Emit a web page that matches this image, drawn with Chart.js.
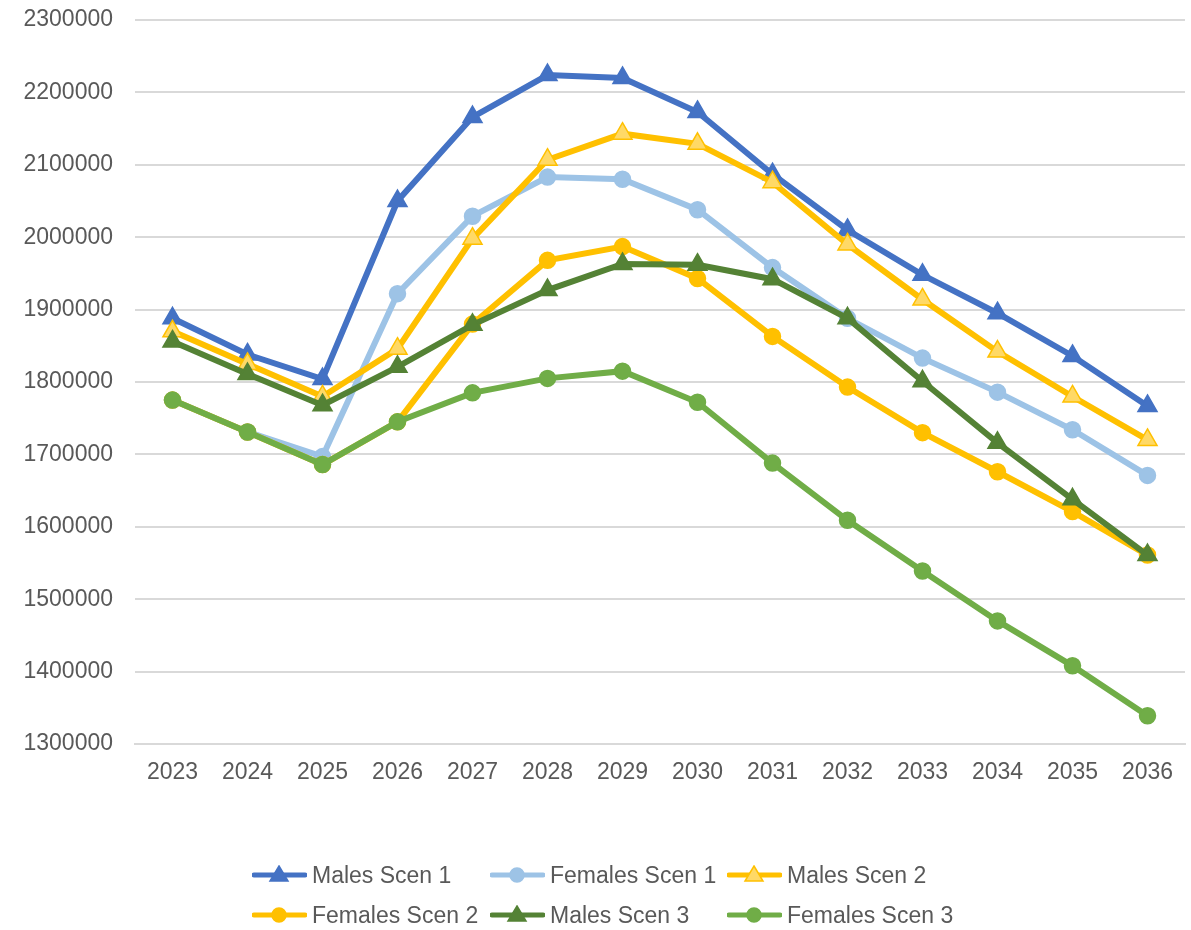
<!DOCTYPE html>
<html>
<head>
<meta charset="utf-8">
<script src="https://cdn.jsdelivr.net/npm/chart.js@4/dist/chart.umd.min.js"></script>
<style>
    body { margin: 0; background: #fff; font-family: "Liberation Sans", Arial, sans-serif; }
    #wrap { position: relative; width: 1191px; height: 930px; }
    #legend { position: absolute; left: 0; top: 0; width: 1191px; height: 930px; pointer-events: none; }
    .item { position: absolute; display: flex; align-items: center; height: 30px; color: #595959; font-size: 23px; white-space: nowrap; }
    .item svg { margin-right: 5px; }
</style>
</head>
<body>
<div id="wrap">
    <canvas id="popChart" width="1191" height="930"></canvas>
    <div id="legend"></div>
</div>
<script>
const years = ["2023", "2024", "2025", "2026", "2027", "2028", "2029", "2030", "2031", "2032", "2033", "2034", "2035", "2036"];

const malesScen1 = [1888000, 1838000, 1804000, 2050000, 2166000, 2224000, 2220000, 2173000, 2087000, 2010000, 1948000, 1895000, 1836000, 1767000];
const femalesScen1 = [1775000, 1731000, 1697000, 1922000, 2029000, 2083000, 2080000, 2038000, 1958000, 1888000, 1833000, 1786000, 1734000, 1671000];
const malesScen2 = [1870000, 1825000, 1780000, 1846000, 1998000, 2107000, 2143000, 2129000, 2076000, 1990000, 1914000, 1842000, 1780000, 1720000];
const femalesScen2 = [1775000, 1731000, 1686000, 1745000, 1880000, 1968000, 1987000, 1943000, 1863000, 1793000, 1730000, 1676000, 1621000, 1561000];
const malesScen3 = [1856000, 1811000, 1768000, 1821000, 1879000, 1927000, 1963000, 1962000, 1942000, 1888000, 1801000, 1716000, 1638000, 1561000];
const femalesScen3 = [1775000, 1731000, 1686000, 1745000, 1785000, 1805000, 1815000, 1772000, 1688000, 1609000, 1539000, 1470000, 1408000, 1339000];

const seriesNames = ["Males Scen 1", "Females Scen 1", "Males Scen 2", "Females Scen 2", "Males Scen 3", "Females Scen 3"];
const yTicks = [1300000, 1400000, 1500000, 1600000, 1700000, 1800000, 1900000, 2000000, 2100000, 2200000, 2300000];

// look of each series (line colour, marker, marker fill)
const looks = [
    { color: "#4472c4", marker: "triangle", fill: "#4472c4", r: 11 },
    { color: "#9dc3e6", marker: "circle", fill: "#9dc3e6", r: 8 },
    { color: "#ffc000", marker: "triangle", fill: "#ffd966", r: 11 },
    { color: "#ffc000", marker: "circle", fill: "#ffc000", r: 8 },
    { color: "#548235", marker: "triangle", fill: "#548235", r: 11 },
    { color: "#70ad47", marker: "circle", fill: "#70ad47", r: 8 }
];
const allData = [malesScen1, femalesScen1, malesScen2, femalesScen2, malesScen3, femalesScen3];

const datasets = allData.map((vals, i) => ({
    label: seriesNames[i],
    data: vals,
    borderColor: looks[i].color,
    backgroundColor: looks[i].fill,
    pointBackgroundColor: looks[i].fill,
    pointBorderColor: looks[i].color,
    pointBorderWidth: 1.5,
    pointStyle: looks[i].marker,
    pointRadius: looks[i].r,
    pointHoverRadius: looks[i].r,
    borderWidth: 6,
    fill: false,
    tension: 0,
    clip: false,
    order: 5 - i // later series on top, like Excel
}));

const ctx = document.getElementById("popChart").getContext("2d");
new Chart(ctx, {
    type: "line",
    data: { labels: years, datasets: datasets },
    options: {
        responsive: false,
        animation: false,
        layout: { autoPadding: false, padding: { top: 20, right: 6, left: 0, bottom: 0 } },
        plugins: { legend: { display: false }, tooltip: { enabled: false } },
        scales: {
            x: {
                offset: true,
                grid: { display: false, drawTicks: false },
                border: { display: true, color: "#d9d9d9", width: 2 },
                ticks: { color: "#595959", font: { family: "Liberation Sans", size: 23 }, padding: 15, maxRotation: 0 },
                afterFit: s => { s.height = 186; s.paddingLeft = 0; s.paddingRight = 0; }
            },
            y: {
                min: 1300000,
                max: 2300000,
                afterBuildTicks: s => { s.ticks = yTicks.map(v => ({ value: v })); },
                grid: { color: "#d9d9d9", lineWidth: 2, drawTicks: false },
                border: { display: false },
                ticks: { color: "#595959", font: { family: "Liberation Sans", size: 23 }, padding: 22, callback: v => String(v) },
                afterFit: s => { s.width = 135; s.paddingTop = 0; s.paddingBottom = 0; }
            }
        }
    }
});

// legend laid out as in the original: 3 columns x 2 rows
const legendCols = [252, 490, 727];
const legendRows = [875, 915];
const legend = document.getElementById("legend");
seriesNames.forEach((name, i) => {
    const lk = looks[i];
    const mark = lk.marker === "circle"
        ? `<circle cx="27" cy="10" r="7" fill="${lk.fill}" stroke="${lk.color}" stroke-width="1.5"/>`
        : `<polygon points="27,1 36,16 18,16" fill="${lk.fill}" stroke="${lk.color}" stroke-width="1.5"/>`;
    const el = document.createElement("div");
    el.className = "item";
    el.style.left = legendCols[i % 3] + "px";
    el.style.top = (legendRows[Math.floor(i / 3)] - 15) + "px";
    el.innerHTML = `<svg width="55" height="20"><line x1="2" y1="10" x2="53" y2="10" stroke="${lk.color}" stroke-width="5" stroke-linecap="round"/>${mark}</svg><span>${name}</span>`;
    legend.appendChild(el);
});
</script>
</body>
</html>
